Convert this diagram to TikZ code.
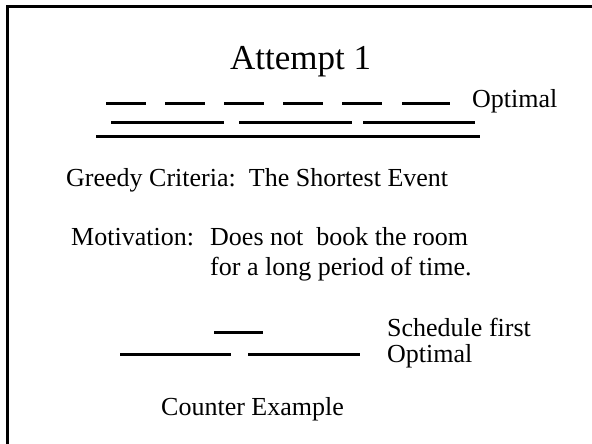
\documentclass[tikz,border=0pt]{standalone}
\usepackage{fontspec}
\setmainfont{Liberation Serif}
\begin{document}
\begin{tikzpicture}[x=1pt,y=-1pt,
        interval/.style={line width=3pt},
        lbl/.style={anchor=base west,inner sep=0pt,font=\fontsize{26}{30}\selectfont}]
    \newcommand{\rowshort}{103}
    \newcommand{\rowmid}{122}
    \newcommand{\rowlong}{136}

    \useasboundingbox (0,0) rectangle (592,444);

    % frame
    \draw[line width=3pt] (7,7) rectangle (620,470);

    % title
    \node[anchor=base,inner sep=0pt,font=\fontsize{35}{40}\selectfont] (title) at (300.5,70) {Attempt 1};

    % events: short ones, medium ones, one long one
    \foreach \s/\e in {106/146,165/205,224/264,283/323,342/382,402/450}
        \draw[interval] (\s,\rowshort) -- (\e,\rowshort);
    \foreach \s/\e in {111/224,239/352,363/475}
        \draw[interval] (\s,\rowmid) -- (\e,\rowmid);
    \draw[interval] (96,\rowlong) -- (480,\rowlong);
    \node[lbl] (opt) at (472,107) {Optimal};

    % criteria and motivation
    \node[lbl] (greedy) at (66,186) {Greedy Criteria:\ \ The Shortest Event};
    \node[lbl] (motiv) at (71,245) {Motivation:};
    \node[lbl] (why) at (210,245) {Does not\ \ book the room};
    \node[lbl] (why2) at (210,275) {for a long period of time.};

    % counter example
    \draw[interval] (214,332) -- (263,332);
    \draw[interval] (120,354) -- (231,354);
    \draw[interval] (248,354) -- (360,354);
    \node[lbl] (first) at (387,336) {Schedule first};
    \node[lbl] (opt2) at (387,362) {Optimal};
    \node[lbl] (counter) at (161,415) {Counter Example};
\end{tikzpicture}
\end{document}
